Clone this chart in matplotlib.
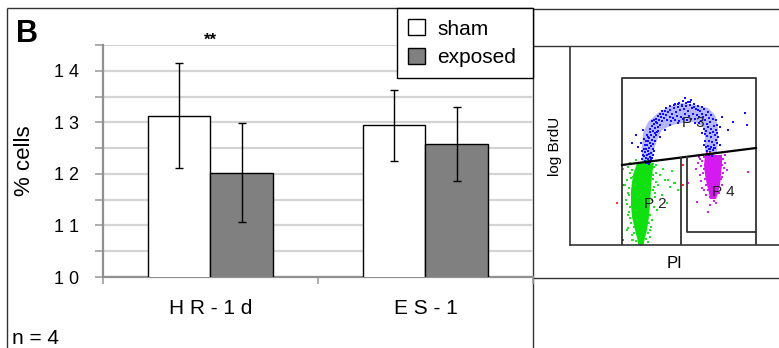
import matplotlib
matplotlib.use("Agg")
import matplotlib.pyplot as plt
from matplotlib.patches import Patch, Polygon

plt.rcParams['font.family'] = ['Liberation Sans', 'DejaVu Sans']

# ---------------- data: bar chart ----------------
categories = ["H R - 1 d", "E S - 1"]
series_names = ["sham", "exposed"]
sham_values = [13.13, 12.94]
sham_errors = [1.02, 0.69]
exposed_values = [12.02, 12.58]
exposed_errors = [0.96, 0.72]
ytick_values = [10, 11, 12, 13, 14]
ytick_labels = ["1 0", "1 1", "1 2", "1 3", "1 4"]
significance = "**"
n_label = "n = 4"
panel_label = "B"

# ---------------- data: flow cytometry inset (channel units) ----------------
gate_outer = [(52, 0), (52, 167), (186, 167), (186, 0)]
gate_split = [(52, 80), (186, 97)]
gate_p2 = [(111, 0), (111, 87.5)]
gate_p4 = [(117, 88.2), (117, 13), (186, 13)]
gate_names = ["P 3", "P 2", "P 4"]
gate_label_pos = [(123, 122), (85, 41), (153, 53)]

green_core = [(67, 82), (63, 70), (61, 55), (61, 40), (62, 28), (65, 15), (68, 3), (68, 0),
              (74, 0), (74, 3), (77, 15), (79, 28), (80, 40), (81, 55), (82, 70), (84, 82)]
green_x = [58, 60, 57, 62, 55, 59, 56, 60, 58, 61, 57, 62, 63, 65, 84, 86, 83, 88, 85, 82, 84, 80,
           79, 78, 76, 90, 95, 100, 104, 108, 92, 97, 102, 68, 66, 74, 61, 86, 80, 64, 93, 71, 75,
           66, 77, 53, 98, 105, 58, 62, 67, 81, 83, 87, 63, 60, 59, 57, 85, 86, 84, 83, 82, 60, 64,
           66, 80, 78, 59, 58]
green_y = [78, 72, 65, 75, 60, 50, 45, 38, 30, 22, 15, 10, 5, 60, 78, 72, 66, 60, 52, 45, 38, 30,
           22, 12, 6, 70, 65, 58, 62, 55, 50, 42, 74, 48, 35, 44, 67, 80, 8, 18, 76, 50, 60,
           85, 84, 76, 65, 62, 17, 5, 25, 18, 55, 35, 68, 82, 57, 41, 48, 63, 58, 70, 25, 27, 12,
           4, 15, 3, 33, 52]

blue_band = [(72, 83), (72, 98), (73, 112), (78, 123), (88, 132), (98, 138), (112, 142), (125, 140),
             (138, 137), (145, 130), (148, 118), (148, 105), (147, 93),
             (135, 93), (135, 108), (133, 118), (125, 123), (112, 122), (102, 120), (92, 115),
             (87, 105), (83, 92), (82, 83)]
blue_x = [75, 77, 79, 81, 78, 76, 80, 82, 74, 77, 79, 81, 75, 78, 83, 72, 84,
          76, 79, 81, 77, 80, 83, 78, 82, 85, 79, 84, 81, 86, 80, 83, 87, 77, 74, 71, 68,
          85, 88, 84, 87, 90, 89, 92, 86, 91, 94, 93, 96, 98, 90, 95, 82, 88,
          100, 102, 104, 106, 108, 110, 112, 114, 116, 118, 120, 122, 124, 126, 128, 103, 107,
          111, 115, 119, 123, 127, 105, 113, 118, 109, 121, 115, 100, 97,
          130, 132, 134, 133, 136, 138, 135, 139, 141, 137, 140, 143, 131, 129,
          138, 141, 144, 136, 140, 143, 146, 137, 141, 145, 139, 142, 146, 138, 141, 144, 137,
          140, 143, 146, 139, 142, 135, 148,
          62, 66, 73, 175, 177, 163, 158, 152, 150, 95, 100, 125, 108, 90, 150, 132,
          76, 78, 80, 79, 81, 142, 140, 144,
          73, 74, 75, 76, 78, 80, 82, 84, 86, 88, 85, 83, 72,
          92, 96, 100, 104, 108, 112, 116, 120, 124, 128, 132, 101, 105, 109, 113, 117, 121, 125, 129,
          146, 147, 134, 135, 147, 136, 145, 147, 134, 139]
blue_y = [84, 83, 84, 85, 86, 87, 88, 87, 89, 90, 91, 92, 93, 94, 90, 86, 94,
          96, 97, 99, 100, 102, 101, 104, 105, 104, 107, 108, 110, 110, 113, 114, 113, 110, 106, 102, 98,
          117, 118, 121, 122, 120, 125, 124, 126, 128, 127, 131, 130, 133, 131, 134, 124, 129,
          135, 131, 137, 133, 138, 135, 140, 136, 139, 134, 140, 137, 141, 136, 139, 127, 129,
          128, 131, 129, 131, 130, 141, 144, 143, 142, 145, 147, 128, 125,
          134, 131, 136, 128, 130, 133, 125, 127, 130, 121, 123, 126, 124, 128,
          118, 116, 119, 114, 112, 113, 115, 109, 108, 110, 104, 103, 105, 99, 98, 100, 94,
          93, 95, 92, 90, 91, 104, 108,
          102, 110, 115, 132, 120, 123, 115, 128, 118, 115, 120, 122, 122, 108, 100, 112,
          82, 82, 83, 81, 86, 89, 96, 97,
          90, 96, 100, 104, 108, 116, 119, 125, 123, 114, 112, 96, 94,
          134, 137, 139, 140, 141, 139, 142, 143, 138, 135, 138, 124, 125, 124, 126, 125, 126, 126, 122,
          125, 120, 116, 111, 112, 98, 97, 102, 100, 96]

magenta_core = [(135, 90), (134, 80), (135, 70), (137, 60), (139, 52), (140, 46),
                (146, 46), (148, 52), (150, 60), (151, 70), (152, 80), (152, 90)]
magenta_x = [134, 132, 136, 151, 153, 131, 134, 152, 155, 133, 130, 153, 135, 151, 152, 136, 134,
             138, 149, 140, 144, 146, 128, 127, 138, 118, 178, 132, 152, 126, 140, 157, 148, 129,
             137, 143, 135, 150, 131, 154, 133, 155, 130, 136]
magenta_y = [88, 84, 86, 88, 86, 79, 76, 80, 82, 72, 70, 72, 66, 66, 60, 60, 55,
             55, 52, 48, 44, 42, 82, 43, 33, 62, 73, 57, 68, 76, 40, 75, 88, 88,
             92, 91, 80, 78, 64, 77, 90, 90, 86, 50]

red_x = [47, 53, 53, 113, 113, 140]
red_y = [42, 60, 5, 60, 80, 92]

# ---------------- figure ----------------
W, H = 779, 348
fig = plt.figure(figsize=(W / 100, H / 100), dpi=100)

# overlay for panel frames (pixel coordinates)
ov = fig.add_axes([0, 0, 1, 1], zorder=0)
ov.set_xlim(0, W)
ov.set_ylim(H, 0)
ov.axis('off')
frame_c = '#333333'
for xs, ys in [([7, 7], [8, 348]), ([7, 533], [8, 8]), ([533, 533], [8, 348]),
               ([533, 779], [9, 9]), ([533, 779], [46, 46]), ([533, 779], [278, 278])]:
    ov.plot(xs, ys, color=frame_c, lw=1.0, solid_capstyle='butt')

# ---------------- bar chart ----------------
ax = fig.add_axes([103 / W, (H - 277) / H, 430 / W, 232 / H], zorder=1)
ax.patch.set_visible(False)
x = list(range(len(categories)))
bw = 0.29
xs_sham = [i - bw / 2 for i in x]
xs_exp = [i + bw / 2 for i in x]
ax.bar(xs_sham, sham_values, width=bw, color='white', edgecolor='black', lw=1.0,
       label=series_names[0], zorder=3)
ax.bar(xs_exp, exposed_values, width=bw, color='#808080', edgecolor='black', lw=1.0,
       label=series_names[1], zorder=3)
ax.errorbar(xs_sham, sham_values, yerr=sham_errors, fmt='none', ecolor='black', elinewidth=1.0,
            capsize=3, capthick=1.0, zorder=4)
ax.errorbar(xs_exp, exposed_values, yerr=exposed_errors, fmt='none', ecolor='black', elinewidth=1.0,
            capsize=3, capthick=1.0, zorder=4)
ax.set_xlim(-0.5, 1.5)
ax.set_ylim(10, 14.5)

ax.set_yticks(ytick_values, labels=ytick_labels)
ax.set_yticks([10.5, 11.5, 12.5, 13.5, 14.5], minor=True)
ax.yaxis.grid(True, which='both', color='#d4d4d4', lw=1.6, zorder=0)
ax.tick_params(axis='y', which='both', direction='out', length=6, width=1.2, color='#a0a0a0',
               labelsize=13, pad=11)

ax.set_xticks([-0.5, 0.5, 1.5], labels=['', '', ''])
ax.set_xticks(x, labels=categories, minor=True)
ax.tick_params(axis='x', which='major', direction='out', length=5, width=1.2, color='#a0a0a0')
ax.tick_params(axis='x', which='minor', length=0, labelsize=15, pad=16)

for s in ['top', 'right']:
    ax.spines[s].set_visible(False)
for s in ['left', 'bottom']:
    ax.spines[s].set_color('#909090')
    ax.spines[s].set_linewidth(1.6)

ax.set_ylabel('% cells', fontsize=16)
ax.yaxis.set_label_coords(-0.158, 0.5)

ax.text(0, 14.6, significance, ha='center', va='center', fontsize=12, fontweight='bold',
        clip_on=False)

handles = [Patch(facecolor='white', edgecolor='black', lw=1.0),
           Patch(facecolor='#808080', edgecolor='black', lw=1.0)]
leg = fig.legend(handles, series_names, loc='upper left',
                 bbox_to_anchor=(397 / W, 1 - 79 / H, 136 / W, 71 / H), mode='expand',
                 fontsize=15, frameon=True, fancybox=False, edgecolor='black', framealpha=1,
                 handlelength=0.78, handleheight=0.78, handletextpad=0.6,
                 labelspacing=0.45, borderpad=0.55, borderaxespad=0.0)
leg.get_frame().set_linewidth(1.0)
leg.set_zorder(5)

fig.text(27 / W, 1 - 34 / H, panel_label, ha='center', va='center', fontsize=22, fontweight='bold')
fig.text(12 / W, 1 - 338 / H, n_label, ha='left', va='center', fontsize=15)

# ---------------- flow cytometry inset ----------------
fx = fig.add_axes([570 / W, (H - 245) / H, 209 / W, 198 / H], zorder=2)
fx.patch.set_visible(False)
fx.set_xlim(0, 209)
fx.set_ylim(0, 198)
fx.set_xticks([])
fx.set_yticks([])
for s in ['top', 'right']:
    fx.spines[s].set_visible(False)
for s in ['left', 'bottom']:
    fx.spines[s].set_color(frame_c)
    fx.spines[s].set_linewidth(1.2)
fx.set_xlabel('PI', fontsize=12)
fx.xaxis.set_label_coords((674 - 570) / 209, -(264 - 245) / 198)
fx.xaxis.label.set_va('center')
fx.set_ylabel('log BrdU', fontsize=11)
fx.yaxis.set_label_coords(-(570 - 555) / 209, 0.5)
fx.yaxis.label.set_va('center')

gate_c = '#333333'
gx, gy = zip(*gate_outer)
fx.plot(gx, gy, color=gate_c, lw=1.3, zorder=5)
sx, sy = zip(*gate_split)
fx.plot(sx, sy, color='black', lw=1.6, zorder=5)
px, py = zip(*gate_p2)
fx.plot(px, py, color=gate_c, lw=1.3, zorder=5)
qx, qy = zip(*gate_p4)
fx.plot(qx, qy, color=gate_c, lw=1.3, zorder=5)

fx.add_patch(Polygon(blue_band, closed=True, facecolor='#3030ff', alpha=0.35, edgecolor='none', zorder=2))
fx.add_patch(Polygon(green_core, closed=True, facecolor='#10e010', edgecolor='none', zorder=2))
fx.add_patch(Polygon(magenta_core, closed=True, facecolor='#d000f0', alpha=0.9, edgecolor='none', zorder=2))
fx.scatter(green_x, green_y, s=2.2, marker='s', color='#22e022', linewidths=0, zorder=3)
fx.scatter(blue_x, blue_y, s=2.2, marker='s', color='#1010ff', linewidths=0, zorder=3)
fx.scatter(magenta_x, magenta_y, s=2.2, marker='s', color='#d020f0', linewidths=0, zorder=3)
fx.scatter(red_x, red_y, s=2.2, marker='s', color='#ff3030', linewidths=0, zorder=3)

for name, (lx, ly) in zip(gate_names, gate_label_pos):
    fx.text(lx, ly, name, ha='center', va='center', fontsize=11, color='#222222', zorder=6)

fig.savefig('out.png', dpi=100)
